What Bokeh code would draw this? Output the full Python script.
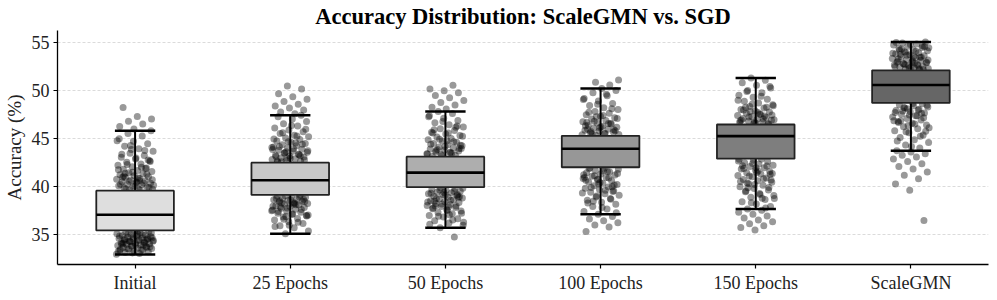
from bokeh.plotting import figure
from bokeh.models import Range1d, FixedTicker
from bokeh.embed import file_html
from bokeh.resources import INLINE

categories = ["Initial", "25 Epochs", "50 Epochs", "100 Epochs", "150 Epochs", "ScaleGMN"]
box_colors = ["#dedede", "#c8c8c8", "#aeaeae", "#979797", "#7e7e7e", "#666666"]

q1 = [35.45, 39.16, 39.96, 42.04, 42.93, 48.75]
median = [37.08, 40.69, 41.48, 43.97, 45.29, 50.62]
q3 = [39.60, 42.52, 43.14, 45.32, 46.50, 52.15]
whisker_lo = [32.95, 35.10, 35.73, 37.15, 37.70, 43.76]
whisker_hi = [45.84, 47.47, 47.86, 50.25, 51.35, 55.10]

y_ticks = [35, 40, 45, 50, 55]

pts_initial = [32.97, 33.04, 33.15, 33.22, 33.31, 33.38, 33.44, 33.52, 33.58, 33.63, 33.71, 33.77,
               33.83, 33.88, 33.95, 34.01, 34.06, 34.12, 34.17, 34.24, 34.29, 34.33, 34.41, 34.46,
               34.52, 34.58, 34.61, 34.67, 34.74, 34.79, 34.85, 34.92, 34.98, 35.03, 35.11, 35.18,
               35.26, 35.34, 35.41, 33.49, 33.90, 34.36, 34.70, 35.07, 34.20, 33.67,
               33.10, 33.26, 33.42, 33.56, 33.74, 33.93, 34.04, 34.15, 34.27, 34.39, 34.49, 34.55,
               34.64, 34.77, 34.88, 35.00, 35.14, 35.22, 35.37, 34.09, 34.44, 33.80,
               35.8, 36.3, 36.9, 37.4, 38.1, 38.7, 39.3,
               39.64, 39.72, 39.81, 39.88, 39.95, 40.04, 40.12, 40.21, 40.28, 40.37, 40.45, 40.53,
               40.62, 40.71, 40.79, 40.88, 40.97, 41.06, 41.15, 41.27, 41.36, 41.48, 41.59, 41.71,
               41.83, 41.96, 42.10, 42.24, 42.38, 42.55, 42.71, 42.90, 43.08, 43.27, 43.50, 43.72,
               43.96, 44.22, 44.48, 44.75, 45.02, 45.30, 45.57, 45.84, 40.5, 41.0, 41.9, 43.9, 44.8,
               39.68, 39.77, 39.92, 40.08, 40.25, 40.41, 40.58, 40.75, 40.93, 41.10, 41.32, 41.53,
               41.77, 42.03, 42.32, 42.63, 43.00, 43.40, 43.80, 44.30, 40.16, 40.66, 41.42, 42.80,
               46.02, 46.28, 46.55, 46.83, 47.08, 47.32, 48.27]
pts_25 = [35.10, 35.40, 35.72, 35.95, 36.18, 36.37, 36.55, 36.70, 36.86, 37.00, 37.12, 37.25,
          37.36, 37.47, 37.58, 37.67, 37.76, 37.85, 37.94, 38.02, 38.10, 38.18, 38.26, 38.34,
          38.42, 38.50, 38.58, 38.66, 38.74, 38.82, 38.90, 38.98, 39.05, 39.12, 36.9, 37.5,
          38.3, 37.9, 38.7, 36.0,
          35.85, 36.30, 36.62, 36.95, 37.20, 37.42, 37.63, 37.80, 37.98, 38.14, 38.30, 38.46,
          38.62, 38.78, 38.94, 39.08, 37.05, 38.20, 38.55,
          39.5, 40.0, 40.5, 40.9, 41.4, 41.9, 42.3,
          42.58, 42.66, 42.75, 42.84, 42.93, 43.02, 43.12, 43.21, 43.30, 43.40, 43.50, 43.60,
          43.71, 43.82, 43.93, 44.04, 44.15, 44.27, 44.39, 44.52, 44.65, 44.79, 44.93, 45.08,
          45.23, 45.39, 45.56, 45.74, 45.93, 46.13, 46.35, 46.58, 46.82, 47.08, 47.30, 47.47,
          43.0, 43.9, 44.6,
          42.62, 42.80, 42.97, 43.16, 43.35, 43.55, 43.76, 43.98, 44.21, 44.45, 44.70, 44.98,
          45.30, 45.65, 46.00, 46.40, 42.70, 43.25, 43.66, 44.10,
          47.62, 47.80, 48.00, 48.22, 48.43, 48.62, 48.90, 49.12, 49.40, 49.70, 50.20, 50.50]
pts_50 = [34.76,
          35.73, 35.98, 36.22, 36.45, 36.66, 36.85, 37.02, 37.18, 37.33, 37.47, 37.60, 37.72,
          37.84, 37.95, 38.06, 38.16, 38.26, 38.36, 38.46, 38.56, 38.65, 38.74, 38.83, 38.92,
          39.01, 39.10, 39.19, 39.28, 39.37, 39.46, 39.55, 39.64, 39.73, 39.82, 39.90, 36.3,
          37.1, 38.0, 38.9, 39.4,
          36.10, 36.55, 36.93, 37.25, 37.54, 37.78, 38.01, 38.21, 38.41, 38.60, 38.79, 38.97,
          39.15, 39.33, 39.50, 39.68, 39.85, 37.90, 38.50, 39.20,
          40.3, 40.8, 41.3, 41.7, 42.2, 42.7,
          43.20, 43.28, 43.37, 43.46, 43.55, 43.64, 43.74, 43.84, 43.94, 44.05, 44.16, 44.27,
          44.39, 44.51, 44.64, 44.77, 44.91, 45.05, 45.20, 45.35, 45.51, 45.68, 45.86, 46.05,
          46.25, 46.46, 46.68, 46.92, 47.16, 47.42, 47.65, 47.86, 44.0, 44.8, 45.6, 46.2,
          43.24, 43.42, 43.60, 43.79, 43.99, 44.21, 44.45, 44.70, 44.97, 45.27, 45.60, 45.96,
          46.35, 46.80, 47.30, 43.50, 43.90, 44.33,
          48.12, 48.30, 48.52, 48.78, 49.00, 49.28, 49.52, 49.80, 50.02, 50.20, 50.60]
pts_100 = [35.35, 35.80, 36.02, 36.25, 36.45, 36.65, 36.90,
           37.15, 37.42, 37.70, 37.95, 38.18, 38.40, 38.60, 38.78, 38.95, 39.12, 39.28, 39.43,
           39.58, 39.72, 39.86, 39.99, 40.12, 40.25, 40.38, 40.50, 40.62, 40.74, 40.86, 40.98,
           41.10, 41.22, 41.34, 41.46, 41.58, 41.70, 41.82, 41.93, 42.00, 39.5, 40.3, 41.0,
           41.6, 38.5,
           37.30, 37.85, 38.30, 38.70, 39.05, 39.35, 39.65, 39.93, 40.19, 40.44, 40.68, 40.92,
           41.16, 41.40, 41.64, 41.88, 40.00, 40.80, 41.25,
           42.5, 43.0, 43.5, 44.0, 44.5, 45.0,
           45.38, 45.46, 45.54, 45.63, 45.72, 45.81, 45.90, 46.00, 46.10, 46.20, 46.31, 46.42,
           46.54, 46.66, 46.79, 46.92, 47.06, 47.20, 47.35, 47.51, 47.68, 47.86, 48.05, 48.25,
           48.47, 48.70, 48.95, 49.22, 49.50, 49.80, 50.05, 50.25, 46.0, 46.6, 47.3,
           45.42, 45.59, 45.77, 45.95, 46.15, 46.37, 46.60, 46.85, 47.13, 47.43, 47.77, 48.15,
           48.60, 49.10, 49.65, 45.50, 45.85, 46.25, 46.70,
           50.62, 50.90, 51.15]
pts_150 = [35.50, 35.75, 35.95, 36.15, 36.35, 36.55, 36.75, 36.95, 37.15, 37.35, 37.55,
           37.70, 37.95, 38.20, 38.45, 38.68, 38.90, 39.10, 39.30, 39.48, 39.66, 39.83, 40.00,
           40.16, 40.32, 40.47, 40.62, 40.77, 40.91, 41.05, 41.19, 41.33, 41.46, 41.59, 41.72,
           41.85, 41.98, 42.11, 42.24, 42.37, 42.50, 42.63, 42.76, 42.88, 38.8, 39.9, 40.7,
           41.5, 42.2,
           37.80, 38.33, 38.78, 39.20, 39.57, 39.92, 40.24, 40.55, 40.84, 41.12, 41.40, 41.66,
           41.92, 42.18, 42.43, 42.69, 42.90, 40.40, 41.30, 42.00,
           43.4, 43.9, 44.5, 45.0, 45.6, 46.1,
           46.55, 46.62, 46.70, 46.78, 46.86, 46.95, 47.04, 47.13, 47.23, 47.33, 47.44, 47.55,
           47.67, 47.80, 47.93, 48.07, 48.22, 48.38, 48.55, 48.73, 48.92, 49.12, 49.33, 49.56,
           49.80, 50.05, 50.30, 50.58, 50.85, 51.10, 51.35, 47.0, 47.6, 48.3,
           46.58, 46.74, 46.90, 47.08, 47.28, 47.50, 47.74, 48.00, 48.30, 48.64, 49.02, 49.45,
           49.93, 50.45, 46.66, 46.98, 47.38, 47.85, 48.45]
pts_scalegmn = [36.50, 39.65, 40.30, 40.85, 41.20, 41.55, 41.85, 42.12, 42.40, 42.65, 42.90,
                43.10, 43.28, 43.45, 43.62,
                43.76, 44.05, 44.35, 44.63, 44.90, 45.15, 45.40, 45.63, 45.85, 46.06, 46.26,
                46.45, 46.63, 46.80, 46.96, 47.12, 47.27, 47.42, 47.56, 47.70, 47.83, 47.96,
                48.09, 48.21, 48.33, 48.45, 48.56, 48.67, 46.4, 46.9, 47.4, 47.9, 45.8,
                44.20, 44.77, 45.28, 45.74, 46.16, 46.54, 46.88, 47.20, 47.49, 47.76, 48.02,
                48.27, 48.50, 48.70, 46.70, 47.64, 48.15,
                49.2, 49.7, 50.2, 50.7, 51.2, 51.7,
                52.20, 52.27, 52.34, 52.41, 52.48, 52.55, 52.62, 52.70, 52.78, 52.86, 52.94,
                53.02, 53.10, 53.19, 53.28, 53.37, 53.46, 53.56, 53.66, 53.76, 53.86, 53.97,
                54.08, 54.19, 54.30, 54.42, 54.54, 54.66, 54.78, 54.90, 55.00, 55.10, 52.5,
                53.0, 53.5, 54.0, 54.5, 52.9, 53.8,
                52.23, 52.38, 52.52, 52.66, 52.82, 52.98, 53.14, 53.32, 53.51, 53.71, 53.92,
                54.14, 54.36, 54.60, 54.84, 55.05, 52.30, 52.74, 53.23, 53.62, 54.25, 54.70]

all_points = [pts_initial, pts_25, pts_50, pts_100, pts_150, pts_scalegmn]

SERIF = "Liberation Serif"

p = figure(frame_width=931, frame_height=234, x_range=Range1d(-0.5, 5.5),
           y_range=Range1d(31.9, 56.3),
           output_backend="svg", toolbar_location=None,
           title="Accuracy Distribution: ScaleGMN vs. SGD",
           min_border_left=49, min_border_right=1, min_border_top=0, min_border_bottom=0)

p.title.text_font = SERIF
p.title.text_font_style = "bold"
p.title.text_font_size = "22.5px"
p.title.align = "center"
p.title.text_color = "#000000"
p.title.standoff = 3
p.title.offset = 0
p.outline_line_color = None
p.background_fill_color = "white"
p.border_fill_color = "white"

# jittered points (deterministic spread for x position)
px, py = [], []
for i, vals in enumerate(all_points):
    for j, v in enumerate(vals):
        off = (((j * 0.6180339887) + 0.37 * i) % 1.0 - 0.5) * 0.24
        px.append(i + off)
        py.append(v)
p.scatter(px, py, size=7, fill_color="black", fill_alpha=0.4, line_color=None)

xs = list(range(len(categories)))
# whiskers
p.segment(x0=xs, y0=q3, x1=xs, y1=whisker_hi, line_color="black", line_width=2)
p.segment(x0=xs, y0=q1, x1=xs, y1=whisker_lo, line_color="black", line_width=2)
cap = 0.13
p.segment(x0=[x - cap for x in xs], y0=whisker_hi, x1=[x + cap for x in xs], y1=whisker_hi,
          line_color="black", line_width=2.5)
p.segment(x0=[x - cap for x in xs], y0=whisker_lo, x1=[x + cap for x in xs], y1=whisker_lo,
          line_color="black", line_width=2.5)
# boxes
p.vbar(x=xs, width=0.5, bottom=q1, top=q3, fill_color=box_colors, line_color="#222222",
       line_width=1.8)
hw = 0.25
p.segment(x0=[x - hw for x in xs], y0=median, x1=[x + hw for x in xs], y1=median,
          line_color="black", line_width=2.6)

# grid
p.xgrid.grid_line_color = None
p.ygrid.grid_line_color = "#cccccc"
p.ygrid.grid_line_dash = "3 2"
p.ygrid.grid_line_width = 0.7
p.ygrid.ticker = FixedTicker(ticks=y_ticks)

# axes
p.xaxis.ticker = FixedTicker(ticks=xs)
p.xaxis.major_label_overrides = {i: c for i, c in enumerate(categories)}
p.yaxis.ticker = FixedTicker(ticks=y_ticks)
p.yaxis.axis_label = "Accuracy (%)"
for ax in (p.xaxis[0], p.yaxis[0]):
    ax.axis_line_color = "black"
    ax.axis_line_width = 1.3
    ax.major_tick_line_color = "black"
    ax.major_tick_line_width = 1.2
    ax.major_tick_out = 4
    ax.major_tick_in = 0
    ax.minor_tick_line_color = None
    ax.major_label_text_font = SERIF
    ax.major_label_text_font_size = "18px"
    ax.major_label_text_color = "#222222"
    ax.axis_label_text_font = SERIF
    ax.axis_label_text_font_size = "19px"
    ax.axis_label_text_font_style = "normal"
    ax.axis_label_text_color = "#222222"
p.yaxis.major_label_standoff = 4
p.yaxis.axis_label_standoff = 4
p.xaxis.major_label_standoff = 4

open("out.html", "w").write(file_html(p, INLINE))
